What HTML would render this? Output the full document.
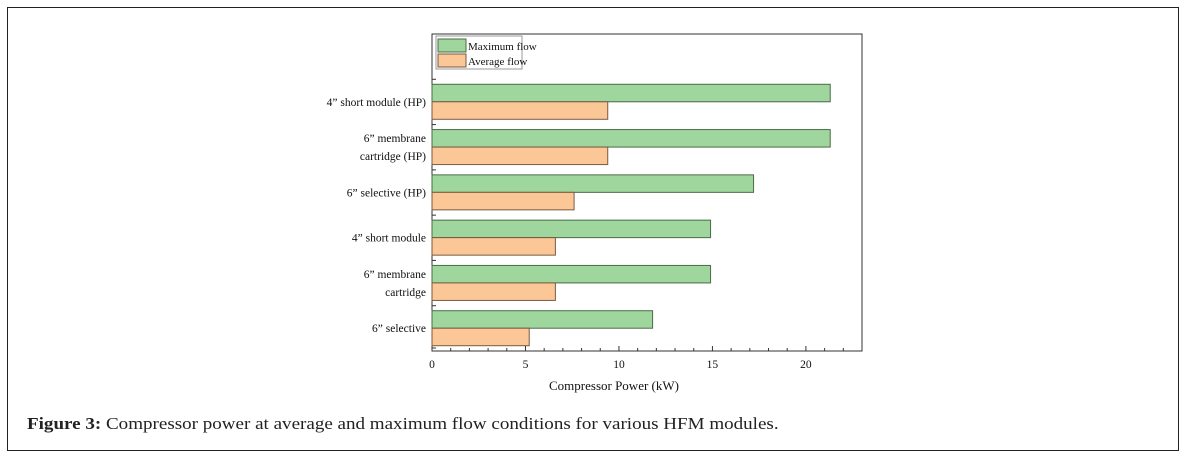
<!DOCTYPE html>
<html><head><meta charset="utf-8">
<style>
body{margin:0;background:#fff;width:1189px;height:460px;overflow:hidden;position:relative;font-family:"Liberation Serif",serif;}
#frame{position:absolute;left:7px;top:7px;width:1172px;height:444px;border:1.5px solid #222;box-sizing:border-box;}
#caption{position:absolute;left:27px;top:414px;font-size:17px;color:#222;white-space:nowrap;transform:scaleX(1.12);transform-origin:0 0;}
svg{position:absolute;left:0;top:0;}
</style></head>
<body>
<div id="frame"></div>
<svg id="chart" width="1189" height="460"></svg>
<div id="caption"><b>Figure 3:</b> Compressor power at average and maximum flow conditions for various HFM modules.</div>
<script>
const categories = [["4\u201D short module (HP)"],["6\u201D membrane","cartridge (HP)"],["6\u201D selective (HP)"],["4\u201D short module"],["6\u201D membrane","cartridge"],["6\u201D selective"]];
const maxFlow = [21.3, 21.3, 17.2, 14.9, 14.9, 11.8];
const avgFlow = [9.4, 9.4, 7.6, 6.6, 6.6, 5.2];
const xTicks = [0, 5, 10, 15, 20];
const seriesNames = ["Maximum flow", "Average flow"];

const NS = "http://www.w3.org/2000/svg";
const svg = document.getElementById("chart");
const L = 432, R = 862, T = 34, B = 351, XMAX = 23;
const band = (B - T) / 7;
const x = v => L + v / XMAX * (R - L);
const bandTop = i => T + band * (i + 1);
function mk(tag, attrs, parent) {
  const e = document.createElementNS(NS, tag);
  for (const k in attrs) e.setAttribute(k, attrs[k]);
  (parent || svg).appendChild(e);
  return e;
}
const box = mk("rect", {x: L, y: T, width: R - L, height: B - T, fill: "none", stroke: "#333", "stroke-width": 1});


for (let i = 0; i <= 6; i++) {
  const yy = bandTop(i) - (i === 6 ? 3 : 0);
  mk("line", {x1: L, x2: L + 4, y1: yy, y2: yy, stroke: "#333"});
}
categories.forEach((c, i) => {
  const top = bandTop(i);
  const g = mk("rect", {x: L, y: top + 5, width: x(maxFlow[i]) - L, height: 17.5, fill: "#9fd69d", stroke: "#4a6b48", "stroke-width": 1});
  
  
  const o = mk("rect", {x: L, y: top + 22.5, width: x(avgFlow[i]) - L, height: 17.5, fill: "#fbc796", stroke: "#7a5a40", "stroke-width": 1});
  
  
  const cy = top + 22.5;
  const t = mk("text", {x: 426, "text-anchor": "end", "font-size": 11.5, fill: "#111", "font-family": "Liberation Serif, serif"});
  
  
  c.forEach((line, j) => {
    const ts = mk("tspan", {x: 426, y: cy + 4 + (j - (c.length - 1) / 2) * 18}, t);
    ts.textContent = line;
  });
});
for (let v = 0; v <= 22; v++) {
  const major = v % 5 === 0;
  mk("line", {x1: x(v), x2: x(v), y1: B, y2: B - (major ? 5 : 3), stroke: "#333"});
}
xTicks.forEach(v => {
  const t = mk("text", {x: x(v), y: 368, "text-anchor": "middle", "font-size": 11.5, fill: "#111"});
  t.textContent = v;
  
  
});
const xt = mk("text", {x: 614, y: 390, "text-anchor": "middle", "font-size": 13, fill: "#111"});
xt.textContent = "Compressor Power (kW)";


const lg = mk("rect", {x: 436, y: 36, width: 86, height: 33, fill: "#fff", stroke: "#999"});


const fills = ["#9fd69d", "#fbc796"], strokes = ["#4a6b48", "#7a5a40"];
seriesNames.forEach((n, i) => {
  const sw = mk("rect", {x: 438, y: 39 + i * 15, width: 28, height: 13, fill: fills[i], stroke: strokes[i]});
  
  
  const t = mk("text", {x: 468, y: 50 + i * 15, "font-size": 11, fill: "#111"});
  t.textContent = n;
  
  
});
</script>
</body></html>
